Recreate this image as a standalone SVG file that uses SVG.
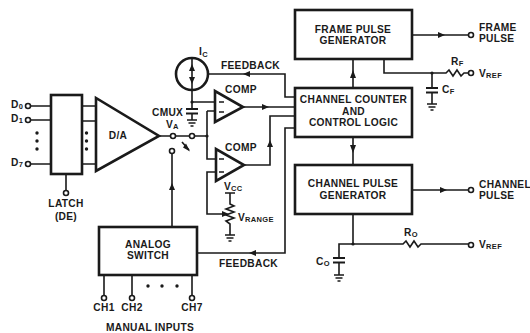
<svg xmlns="http://www.w3.org/2000/svg" width="530" height="333" viewBox="0 0 530 333">
<style>
text{font-family:"Liberation Sans",Arial,sans-serif;font-weight:700;font-size:10.2px;fill:#1a1a1a;letter-spacing:.3px}
.m{text-anchor:middle}
.s{font-size:7.5px}
.b{fill:#fff;stroke:#1a1a1a;stroke-width:2.6}
.w{fill:none;stroke:#1a1a1a;stroke-width:1.6}
.t{fill:none;stroke:#1a1a1a;stroke-width:1.8}
.p{fill:#fff;stroke:#1a1a1a;stroke-width:1.6}
.a{fill:#1a1a1a}
</style>
<defs>
<g id="gnd"><path class="w" d="M-5 0H5M-3.500 3H3.500M-1.500 6H1.500"/></g>
<g id="cap"><path class="t" d="M-6 0H6M-6 4.500H6"/></g>
</defs>
<rect width="530" height="333" fill="#fff"/>
<g id="connectors">
<path class="w" d="M31 106H51M31 120H51M31 164H51M66 174V190M82 106H96M82 121H96M82 164H96"/>
<path class="w" d="M160 136H170M176 136L189 136M195 136H207M207 111V159H216M207 111H215"/>
<path class="w" d="M192 90V109M192 102H215M192 113.500V120"/>
<path class="w" d="M209 74H285V97H295"/>
<path class="w" d="M243 107H295M244 165H270V116H295"/>
<path class="w" d="M216 172H207V214H224"/>
<path class="w" d="M230 193V204L234 206L226 209L234 212L226 215L234 218L226 221L230 224V235M225 193H235"/>
<path class="w" d="M172 154V227M182 142L189 150"/>
<path class="w" d="M295 128H285V253H197"/>
<path class="w" d="M104 275V295M132 275V295M192 275V295"/>
<path class="w" d="M353 59V88M353 137V165M412 35H468M384 59V73H446L449 70L453 76L457 70L461 76L464 73H468M432 73V88M432 93V104"/>
<path class="w" d="M412 190H468M353 214V244H403L406 241L410 247L414 241L418 247L421 244H468M353 244H339V258M339 263V275"/>
<g class="a">
<path d="M243 74l7-3v6zM269 107l-7-3v6zM270 140l-3 7h6zM229 214l-7-3v6zM172 183l-3 7h6zM190 151.500l-7-4 3-4zM249 253l7-3v6zM353 70l-3 8h6zM353 153l-3-8h6zM445 35l-7-3v6zM447 190l-7-3v6z"/>
<path d="M192 64l-3 7h6zM192 84l-3-7h6z"/>
<circle cx="192" cy="102" r="1.600"/><circle cx="207" cy="136" r="1.600"/><circle cx="432" cy="73" r="1.600"/><circle cx="353" cy="244" r="1.600"/>
</g>
<path class="w" d="M192 58V90"/>
<use href="#cap" x="192" y="109"/><use href="#gnd" x="192" y="120"/>
<use href="#gnd" x="230" y="235"/>
<use href="#cap" x="432" y="88"/><use href="#gnd" x="432" y="104"/>
<use href="#cap" x="339" y="258"/><use href="#gnd" x="339" y="275"/>
</g>
<g id="terminals">
<circle class="p" cx="28" cy="106" r="2.500"/><circle class="p" cx="28" cy="120" r="2.500"/><circle class="p" cx="28" cy="164" r="2.500"/>
<circle class="p" cx="66" cy="193" r="2.500"/><circle class="p" cx="173" cy="136" r="2.500"/><circle class="p" cx="192" cy="136" r="2.500"/><circle class="p" cx="172" cy="151" r="2.500"/>
<circle class="p" cx="104" cy="298" r="2.500"/><circle class="p" cx="132" cy="298" r="2.500"/><circle class="p" cx="192" cy="298" r="2.500"/>
<circle class="p" cx="471" cy="35" r="2.500"/><circle class="p" cx="471" cy="73" r="2.500"/><circle class="p" cx="471" cy="190" r="2.500"/><circle class="p" cx="471" cy="245" r="2.500"/>
</g>
<g id="latch"><rect class="b" x="51" y="95" width="31" height="79"/>
<g class="a"><circle cx="86.500" cy="133" r="1.700"/><circle cx="86.500" cy="141" r="1.700"/><circle cx="86.500" cy="149" r="1.700"/><circle cx="37" cy="133" r="1.700"/><circle cx="37" cy="141" r="1.700"/><circle cx="37" cy="149" r="1.700"/></g></g>
<g id="dac"><path class="b" d="M96 98V171L159 136Z"/><text class="m" x="118" y="139">D/A</text></g>
<g id="current-source"><circle cx="192" cy="74" r="16" fill="none" stroke="#1a1a1a" stroke-width="2.600"/></g>
<g id="comp1"><path class="b" d="M215 91V122L243 107Z"/><path class="w" d="M219 102H224M219 112H224"/><text x="225" y="93">COMP</text></g>
<g id="comp2"><path class="b" d="M216 149V181L244 165Z"/><path class="w" d="M219 159H224M219 172H224"/><text x="225" y="151">COMP</text></g>
<g id="counter"><rect class="b" x="295" y="88" width="117" height="49"/><text class="m" x="353.500" y="103">CHANNEL COUNTER</text><text class="m" x="353.500" y="115">AND</text><text class="m" x="353.500" y="126">CONTROL LOGIC</text></g>
<g id="frame-gen"><rect class="b" x="295" y="10" width="117" height="49"/><text class="m" x="353" y="33">FRAME PULSE</text><text class="m" x="353" y="44">GENERATOR</text></g>
<g id="channel-gen"><rect class="b" x="295" y="165" width="117" height="49"/><text class="m" x="353" y="187">CHANNEL PULSE</text><text class="m" x="353" y="199">GENERATOR</text></g>
<g id="switch"><rect class="b" x="99" y="227" width="98" height="48"/><text class="m" x="148" y="248">ANALOG</text><text class="m" x="148" y="259">SWITCH</text></g>
<g id="labels">
<text x="11" y="108">D<tspan class="s" dy="1">0</tspan></text>
<text x="11" y="122">D<tspan class="s" dy="1">1</tspan></text>
<text x="11" y="166">D<tspan class="s" dy="1">7</tspan></text>
<text class="m" x="66" y="207">LATCH</text><text class="m" x="66" y="220">(DE)</text>
<text x="199" y="55">I<tspan class="s" dy="2">C</tspan></text>
<text x="221" y="69">FEEDBACK</text>
<text x="152" y="116">CMUX</text>
<text x="166" y="128">V<tspan class="s" dy="1">A</tspan></text>
<text x="224" y="190">V<tspan class="s" dy="1">CC</tspan></text>
<text x="238" y="221">V<tspan class="s" dy="1">RANGE</tspan></text>
<text x="219" y="267">FEEDBACK</text>
<text x="479" y="31">FRAME</text><text x="479" y="42">PULSE</text>
<text x="451" y="65">R<tspan class="s" dy="1">F</tspan></text>
<text x="479" y="77">V<tspan class="s" dy="1">REF</tspan></text>
<text x="442" y="93">C<tspan class="s" dy="1">F</tspan></text>
<text x="479" y="188">CHANNEL</text><text x="479" y="199">PULSE</text>
<text x="404" y="236">R<tspan class="s" dy="1">O</tspan></text>
<text x="479" y="248">V<tspan class="s" dy="1">REF</tspan></text>
<text x="316" y="265">C<tspan class="s" dy="1">O</tspan></text>
<text class="m" x="104" y="311">CH1</text><text class="m" x="132" y="311">CH2</text><text class="m" x="192" y="311">CH7</text>
<text class="m" x="150" y="331">MANUAL INPUTS</text>
<g class="a"><circle cx="148" cy="286" r="1.700"/><circle cx="162" cy="286" r="1.700"/><circle cx="177" cy="286" r="1.700"/></g>
</g>
</svg>
